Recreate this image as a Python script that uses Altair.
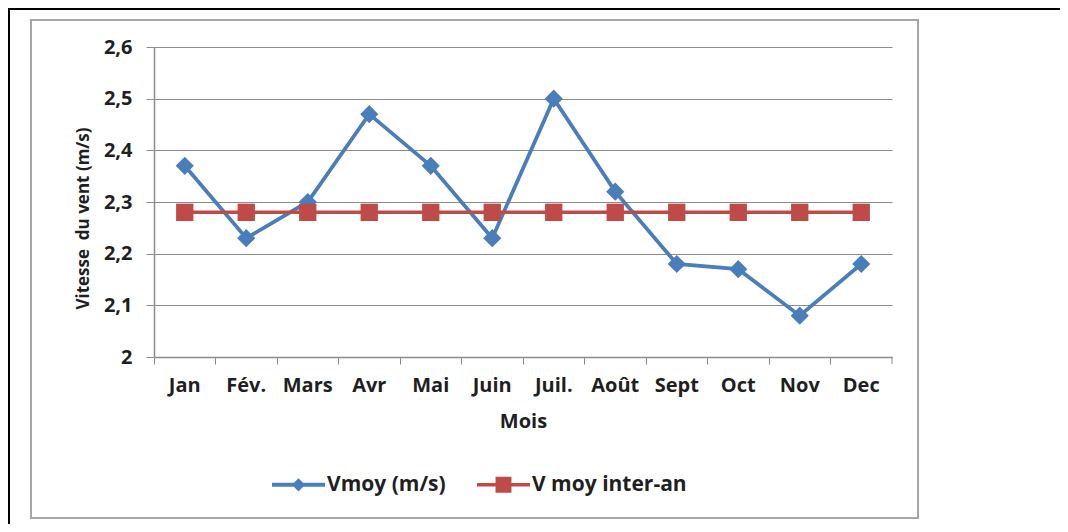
import altair as alt
import pandas as pd

months = ["Jan", "Fév.", "Mars", "Avr", "Mai", "Juin", "Juil.", "Août", "Sept", "Oct", "Nov", "Dec"]
vmoy = [2.37, 2.23, 2.30, 2.47, 2.37, 2.23, 2.50, 2.32, 2.18, 2.17, 2.08, 2.18]
vinter = [2.28] * 12
series = ["Vmoy (m/s)", "V moy inter-an"]
y_ticks = [2.0, 2.1, 2.2, 2.3, 2.4, 2.5, 2.6]

BLUE = "#4A7EBB"
RED = "#BE4B48"
GRID = "#8C8C8C"
TXT = "#1F1F1F"
FONT = "Open Sans"

rows = []
for m, a, b in zip(months, vmoy, vinter):
    rows.append({"mois": m, "serie": series[0], "valeur": a})
    rows.append({"mois": m, "serie": series[1], "valeur": b})
df = pd.DataFrame(rows)

x_enc = alt.X(
    "mois:N", sort=months,
    scale=alt.Scale(type="band", paddingInner=0, paddingOuter=0),
    bandPosition=0.5,
    axis=alt.Axis(
        title="Mois", bandPosition=0, labelAngle=0,
        tickSize=7, tickColor=GRID, domainColor=GRID, domainWidth=1.5,
        labelPadding=11, labelFont=FONT, labelFontSize=20, labelFontWeight="bold",
        labelColor=TXT, grid=False,
        titleFont=FONT, titleFontSize=20, titleFontWeight="bold", titleColor=TXT,
        titleY=70, titleBaseline="alphabetic",
    ),
)
y_enc = alt.Y(
    "valeur:Q",
    scale=alt.Scale(domain=[2, 2.6], nice=False, zero=False),
    axis=alt.Axis(
        values=y_ticks,
        labelExpr="replace(format(datum.value, '~g'), '.', ',')",
        title="Vitesse\u00a0 du vent (m/s)",
        titleFont=FONT, titleFontSize=17, titleFontWeight="bold", titleColor=TXT,
        titleX=-66, titleY=171, titleBaseline="alphabetic", titleAngle=270,
        grid=True, gridColor=GRID, gridWidth=1.2,
        domainColor=GRID, domainWidth=1.5, tickColor=GRID, tickSize=8,
        labelPadding=14, labelFont=FONT, labelFontSize=20, labelFontWeight="bold",
        labelColor=TXT,
    ),
)

base = alt.Chart(df).encode(x=x_enc, y=y_enc)

line_v = base.transform_filter(alt.datum.serie == series[0]).mark_line(color=BLUE, strokeWidth=3.8)
pts_v = base.transform_filter(alt.datum.serie == series[0]).mark_point(
    shape="diamond", filled=True, size=330, color=BLUE, opacity=1)
line_r = base.transform_filter(alt.datum.serie == series[1]).mark_line(color=RED, strokeWidth=3.5)
pts_r = base.transform_filter(alt.datum.serie == series[1]).mark_point(
    shape="square", filled=True, size=300, color=RED, opacity=1)

path_v = "M-1,-0.075H1V0.075H-1Z M0,-0.25L0.25,0L0,0.25L-0.25,0Z"
path_r = "M-1,-0.065H1V0.065H-1Z M-0.3,-0.3H0.3V0.3H-0.3Z"

leg = alt.Legend(
    orient="none", legendX=118, legendY=411, direction="horizontal", title=None,
    symbolSize=2809, symbolStrokeWidth=0, columnPadding=31, labelOffset=2,
    labelFont=FONT, labelFontSize=21, labelFontWeight="bold", labelColor=TXT,
)
legend_layer = alt.Chart(df).transform_filter("false").mark_point(filled=True, opacity=1).encode(
    color=alt.Color("serie:N", scale=alt.Scale(domain=series, range=[BLUE, RED]), legend=leg),
    shape=alt.Shape("serie:N", scale=alt.Scale(domain=series, range=[path_v, path_r]), legend=leg),
)

one = alt.Chart(pd.DataFrame({"k": [0]}))
box = one.mark_rect(fillOpacity=0, stroke="#A6A6A6", strokeWidth=2).encode(
    x=alt.value(-123), x2=alt.value(764), y=alt.value(-27), y2=alt.value(471))
frame_top = one.mark_rule(color="black", strokeWidth=2).encode(
    x=alt.value(-146), x2=alt.value(906), y=alt.value(-38))
frame_left = one.mark_rule(color="black", strokeWidth=2).encode(
    x=alt.value(-145), y=alt.value(-39), y2=alt.value(477))
end_tick = one.mark_rule(color=GRID, strokeWidth=1).encode(
    x=alt.value(738), y=alt.value(310), y2=alt.value(317))

chart = alt.layer(
    box, frame_top, frame_left, end_tick, line_v, pts_v, line_r, pts_r, legend_layer
).properties(
    width=738, height=310,
    autosize=alt.AutoSizeParams(type="none"),
    padding={"left": 146, "top": 39, "right": 168, "bottom": 167},
).configure_view(stroke=None)

chart.save("out.html", embed_options={"renderer": "svg", "actions": False})
